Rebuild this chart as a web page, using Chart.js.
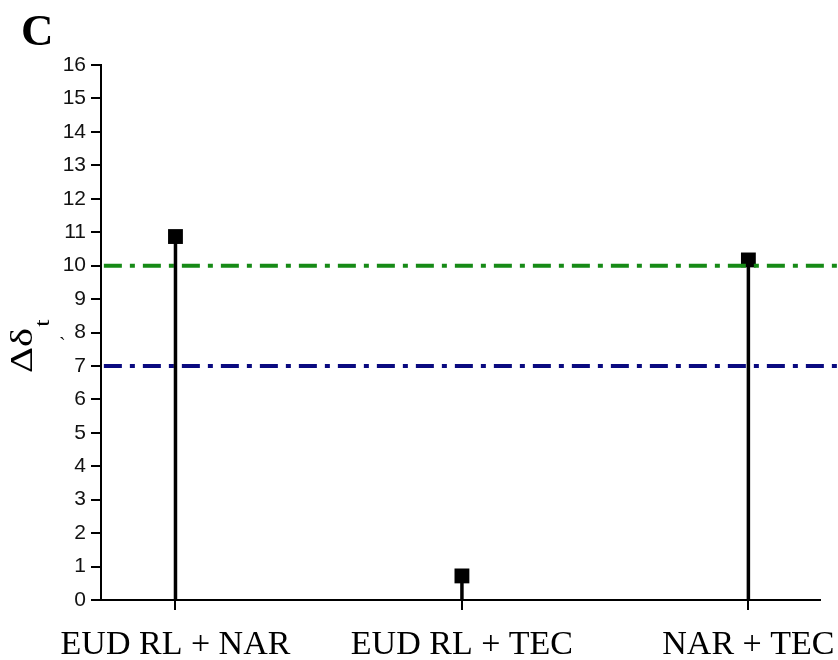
<!DOCTYPE html>
<html>
<head>
<meta charset="utf-8">
<script src="https://cdn.jsdelivr.net/npm/chart.js@4.4.0/dist/chart.umd.min.js"></script>
<style>
  html, body { margin: 0; padding: 0; background: #fff; }
  #wrap { width: 838px; height: 660px; }
</style>
</head>
<body>
<div id="wrap"><canvas id="myChart" width="838" height="660"></canvas></div>
<script>
// data
const categories = ['EUD RL + NAR', 'EUD RL + TEC', 'NAR + TEC'];
const deltaValues = [10.87, 0.72, 10.17];
const thresholdHigh = 10;   // green dash-dot
const thresholdLow = 7;     // navy dash-dot
const yMin = 0, yMax = 16, yStep = 1;
const xMin = -0.26, xMax = 2.25;

// stems: one small line per category, from 0 up to the value
const stemSets = deltaValues.map(function(v, i) {
    return {
        type: 'line',
        data: [{ x: i, y: 0 }, { x: i, y: v }],
        borderColor: '#000',
        borderWidth: 3.5,
        pointRadius: 0,
        clip: false
    };
});

function refLine(val, color) {
    return {
        type: 'line',
        data: [{ x: xMin + 0.01, y: val }, { x: 2.31, y: val }],
        borderColor: color,
        borderWidth: 4,
        borderDash: [18, 8, 5, 8],
        pointRadius: 0,
        clip: false
    };
}

// huruf C dan judul sumbu y
const extraText = {
    id: 'extraText',
    afterDraw: function(chart) {
        const ctx = chart.ctx;
        ctx.save();
        ctx.fillStyle = '#000';
        ctx.font = 'bold 45px "Liberation Serif"';
        ctx.textAlign = 'left';
        ctx.textBaseline = 'alphabetic';
        ctx.fillText('C', 21, 45);

        ctx.font = '20px "Liberation Serif"';
        ctx.fillText('`', 59, 352);

        ctx.translate(32, 373);
        ctx.rotate(-Math.PI / 2);
        ctx.scale(1.3, 1);
        ctx.font = '31px "Liberation Serif"';
        ctx.fillText('\u0394\u03b4', 0, 0);
        const w = ctx.measureText('\u0394\u03b4').width;
        ctx.font = '20px "Liberation Serif"';
        ctx.fillText('t', w + 1, 17);
        ctx.restore();
    }
};

const ctx = document.getElementById('myChart').getContext('2d');
const myChart = new Chart(ctx, {
    type: 'scatter',
    data: {
        datasets: stemSets.concat([
            refLine(thresholdHigh, '#168a16'),
            refLine(thresholdLow, '#0a0a80'),
            {
                type: 'scatter',
                data: deltaValues.map(function(v, i) { return { x: i, y: v }; }),
                pointStyle: 'rect',
                pointRadius: 10.5,
                pointHoverRadius: 10.5,
                backgroundColor: '#000',
                borderColor: '#000',
                borderWidth: 0,
                clip: false
            }
        ])
    },
    options: {
        responsive: false,
        animation: false,
        layout: { padding: { top: 65, right: 18, left: 0, bottom: 0 } },
        plugins: {
            legend: { display: false },
            tooltip: { enabled: false }
        },
        scales: {
            x: {
                type: 'linear',
                min: xMin,
                max: xMax,
                afterBuildTicks: function(scale) {
                    scale.ticks = categories.map(function(c, i) { return { value: i }; });
                },
                afterFit: function(scale) {
                    scale.height = 60;
                    scale.paddingLeft = 0;
                    scale.paddingRight = 0;
                },
                border: { color: '#000', width: 2 },
                grid: { drawOnChartArea: false, drawTicks: true, tickLength: 10, color: '#000', lineWidth: 2 },
                ticks: {
                    color: '#000',
                    padding: 15,
                    font: { family: 'Liberation Serif', size: 34 },
                    callback: function(v) { return categories[v]; },
                    maxRotation: 0,
                    autoSkip: false
                }
            },
            y: {
                min: yMin,
                max: yMax,
                afterFit: function(scale) {
                    scale.width = 101;
                    scale.paddingTop = 0;
                    scale.paddingBottom = 0;
                },
                border: { color: '#000', width: 2 },
                grid: { drawOnChartArea: false, drawTicks: true, tickLength: 10, color: '#000', lineWidth: 2 },
                ticks: {
                    stepSize: yStep,
                    color: '#111',
                    padding: 5,
                    font: { family: 'Liberation Sans', size: 21 }
                }
            }
        }
    },
    plugins: [extraText]
});
</script>
</body>
</html>
